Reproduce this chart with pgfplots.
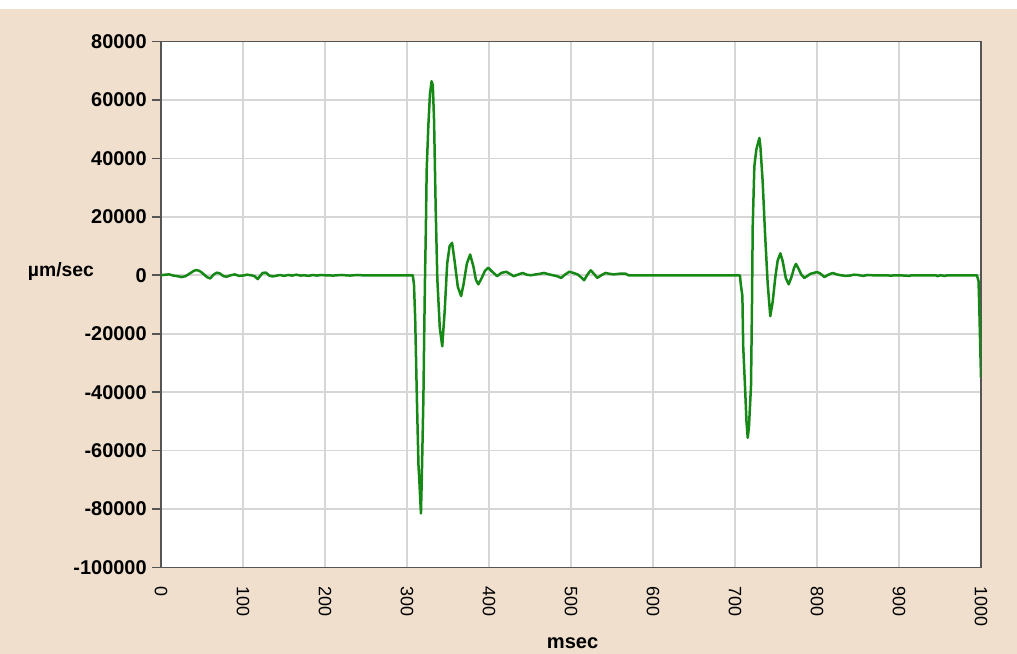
\documentclass[border=0pt]{standalone}
\usepackage{fontspec}
\setmainfont{Liberation Sans}
\usepackage{pgfplots}
\pgfplotsset{compat=1.18}
\definecolor{bg}{RGB}{240,223,205}
\definecolor{gridc}{RGB}{214,214,214}
\definecolor{linec}{RGB}{22,136,22}
\definecolor{axc}{RGB}{85,85,85}
\begin{document}
\begin{tikzpicture}
\path[use as bounding box] (-80.5bp,-43.25bp) rectangle (428bp,283.75bp);
\fill[bg] (-80.5bp,-43.25bp) rectangle (428bp,279.25bp);
\begin{axis}[
  scale only axis, width=410bp, height=263bp,
  at={(0,0)}, anchor=south west,
  xmin=0, xmax=1000, ymin=-100000, ymax=80000,
  axis background/.style={fill=white},
  axis line style={draw=axc, line width=0.9bp},
  grid=major, major grid style={draw=gridc, line width=0.8bp},
  xtick={0,100,...,1000},
  xticklabels={0,100,200,300,400,500,600,700,800,900,1000},
  ytick={-100000,-80000,-60000,-40000,-20000,0,20000,40000,60000,80000},
  yticklabels={-100000,-80000,-60000,-40000,-20000,0,20000,40000,60000,80000},
  scaled ticks=false,
  tick align=outside, major tick length=4.5bp,
  xtick style={draw=none},
  ytick style={draw=axc, line width=0.8bp},
  xticklabel style={font=\fontsize{9}{10}\selectfont, yshift=-5bp, rotate=-90, anchor=west, inner sep=0pt},
  yticklabel style={font=\bfseries\fontsize{10}{12}\selectfont, inner sep=2.5bp},
  xtick pos=bottom, ytick pos=left,
  xlabel={msec}, ylabel={µm/sec},
  every axis x label/.style={at={(axis description cs:0.502,-0.1435)}, anchor=center, font=\bfseries\fontsize{10.1}{12}\selectfont},
  every axis y label/.style={at={(axis description cs:-0.122,0.5618)}, anchor=center, font=\bfseries\fontsize{9.7}{12}\selectfont},
  clip=true,
]
\addplot[color=linec, line width=1.25bp, line join=round] coordinates {
(0,0)(5,200)(10,300)(15,-100)(20,-300)(25,-600)(30,-300)(35,600)(40,1500)(43,1800)(47,1500)(52,400)(56,-600)(60,-1100)(64,200)(68,900)(72,600)(76,-300)(80,-500)(85,0)(90,300)(95,-200)(100,-100)(105,200)(110,0)(114,-300)(118,-1300)(121,-200)(124,800)(128,900)(132,-100)(136,-400)(140,-200)(145,100)(150,-200)(155,100)(160,-100)(165,200)(170,-100)(175,0)(180,-200)(185,100)(190,-100)(195,100)(200,0)(210,-100)(220,100)(230,-100)(240,100)(245,0)(307,0)
(308.5,-3000)(310,-15000)(312,-41500)(314,-65000)(315,-70000)(317,-81500)(318,-70000)(320,-42000)(321,-20000)(322,0)(323,15700)(324,36000)(326,51000)(328,62000)(330,66400)(331.5,65000)(333,53000)(335,22500)(337,-1400)(340,-18000)(343,-24300)(346,-12000)(349,4000)(352,10000)(355,11100)(358,5000)(362,-4000)(366,-7100)(369,-3000)(373,4000)(377,7100)(381,3000)(384,-1500)(387,-3100)(391,-1000)(395,1500)(399,2600)(404,1200)(410,-300)(415,800)(421,1200)(426,400)(430,-300)(436,300)(441,800)(446,200)(451,0)(457,300)(462,500)(467,800)(472,400)(478,0)(483,-300)(488,-900)(493,300)(498,1200)(503,800)(508,300)(512,-600)(516,-1700)(520,200)(524,1700)(528,500)(532,-900)(537,0)(542,800)(547,500)(552,300)(558,500)(563,600)(567,500)(570,0)(706,0)
(707,-3000)(709,-7100)(710,-24300)(712,-36700)(714,-50000)(715.5,-55600)(717,-52000)(719.5,-37900)(720.7,-10600)(721.6,16800)(723.6,37300)(726,43000)(729.7,47000)(731,44000)(733.8,31700)(736.6,14500)(739.8,-2600)(743,-14000)(746,-9000)(749,-1000)(752,5000)(755.3,7500)(758,5000)(762,-1000)(765.5,-3100)(769,-500)(772,2500)(774.4,3900)(777,2500)(781,200)(784.5,-900)(788,-300)(792,500)(796,800)(800,1100)(804,600)(809,-600)(814,200)(819,800)(824,300)(829,0)(835,-200)(840,-100)(845,200)(850,100)(856,-200)(862,100)(868,0)(880,0)(890,-100)(900,0)(912,-200)(916,0)(945,0)(947,-300)(950,0)(956,-200)(959,0)(995,0)(997,-2000)(998,-12000)(999,-24000)(1000,-35000)
};
\end{axis}
\end{tikzpicture}
\end{document}
